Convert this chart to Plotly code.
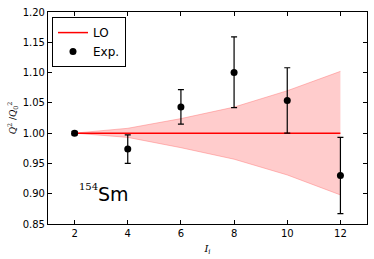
import plotly.graph_objects as go

spins = [2, 4, 6, 8, 10, 12]
exp_vals = [1.000, 0.974, 1.043, 1.100, 1.054, 0.930]
exp_up = [1.003, 0.997, 1.072, 1.159, 1.108, 0.993]
exp_lo = [0.997, 0.950, 1.015, 1.042, 1.000, 0.867]
lo_vals = [1.0, 1.0, 1.0, 1.0, 1.0, 1.0]
band_up = [1.000, 1.008, 1.024, 1.043, 1.070, 1.102]
band_lo = [1.000, 0.993, 0.976, 0.957, 0.931, 0.898]

err_plus = [u - v for u, v in zip(exp_up, exp_vals)]
err_minus = [v - l for v, l in zip(exp_vals, exp_lo)]

fig = go.Figure()
fig.add_trace(go.Scatter(x=spins, y=band_up, mode="lines",
                         line=dict(color="rgba(255,120,120,0.6)", width=0.8),
                         showlegend=False, hoverinfo="skip"))
fig.add_trace(go.Scatter(x=spins, y=band_lo, mode="lines", fill="tonexty",
                         fillcolor="rgba(255,0,0,0.2)",
                         line=dict(color="rgba(255,120,120,0.6)", width=0.8),
                         showlegend=False, hoverinfo="skip"))
fig.add_trace(go.Scatter(x=spins, y=lo_vals, mode="lines", name="LO",
                         line=dict(color="#ff0000", width=1.5)))
fig.add_trace(go.Scatter(x=spins, y=exp_vals, mode="markers", name="Exp.",
                         marker=dict(color="black", size=7),
                         error_y=dict(type="data", symmetric=False, array=err_plus,
                                      arrayminus=err_minus, color="black",
                                      thickness=1.2, width=3)))

fig.add_annotation(x=2.54, y=0.912, xref="x", yref="y", text="154", showarrow=False,
                   font=dict(family="DejaVu Serif", size=10, color="black"),
                   xanchor="center", yanchor="middle")
fig.add_annotation(x=3.47, y=0.9, xref="x", yref="y", text="Sm", showarrow=False,
                   font=dict(family="DejaVu Sans", size=19, color="black"),
                   xanchor="center", yanchor="middle")

axis_common = dict(showline=True, linecolor="black", linewidth=1.2, mirror="ticks",
                   ticks="inside", ticklen=4, tickcolor="black", showgrid=False,
                   zeroline=False, ticklabeloverflow="allow",
                   tickfont=dict(family="DejaVu Sans", size=10, color="black"))

fig.update_xaxes(range=[1, 13], tickvals=[2, 4, 6, 8, 10, 12],
                 title=dict(text="<i>I<sub>i</sub></i>", standoff=6,
                            font=dict(family="DejaVu Serif", size=10, color="black")),
                 **axis_common)
fig.update_yaxes(range=[0.85, 1.20], tickvals=[0.85, 0.90, 0.95, 1.00, 1.05, 1.10, 1.15, 1.20],
                 tickformat=".2f",
                 title=dict(text="<i>Q</i><sup>2</sup> /<i>Q</i><sub>0</sub><sup>2</sup>", standoff=4,
                            font=dict(family="DejaVu Serif", size=9, color="black")),
                 **axis_common)

fig.update_layout(width=374, height=259, margin=dict(l=48, r=7, t=12, b=35),
                  plot_bgcolor="white", paper_bgcolor="white",
                  legend=dict(x=0.0125, y=0.976, xanchor="left", yanchor="top",
                              traceorder="normal",
                              bordercolor="black", borderwidth=1, bgcolor="white",
                              font=dict(family="DejaVu Sans", size=12, color="black"),
                              tracegroupgap=0, itemwidth=30))

# remove the browser's default 8px body margin so the figure fills the window exactly
fig.write_html("out.html", config={"displayModeBar": False},
               post_script="document.body.style.margin='0';document.body.style.overflow='hidden';")
